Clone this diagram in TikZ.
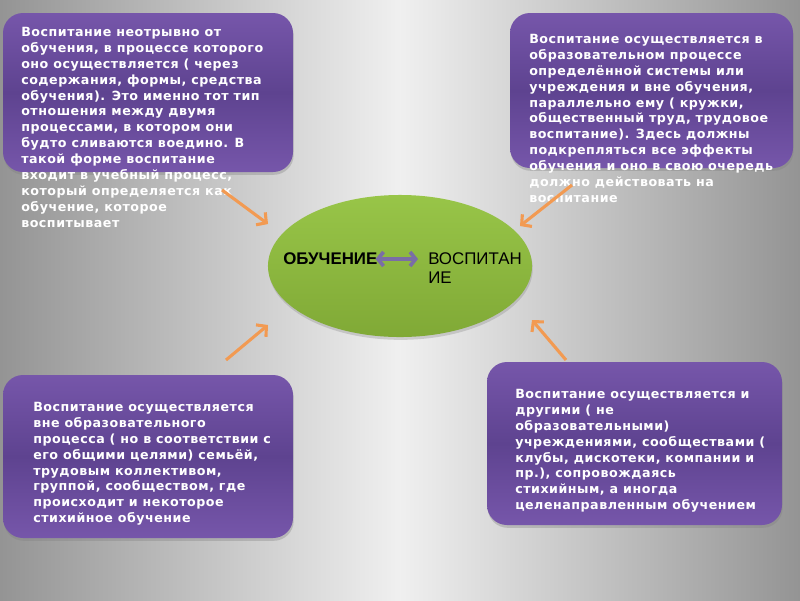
\documentclass[tikz,border=0pt]{standalone}
\usepackage{fontspec}
\setmainfont{DejaVu Sans}
\newfontfamily\boxfont[LetterSpace=4]{DejaVu Sans}
\newfontfamily\ovalfont{Liberation Sans}
\usetikzlibrary{arrows.meta,fit,shadows,shapes.geometric}
\definecolor{boxtop}{HTML}{7656AA}
\definecolor{boxmid}{HTML}{5E4390}
\definecolor{ovaltop}{HTML}{98C548}
\definecolor{ovalbot}{HTML}{80A936}
\definecolor{arroworange}{HTML}{F29A52}
\definecolor{linkpurple}{HTML}{7A6DA6}

\begin{document}
\begin{tikzpicture}[x=0.025cm,y=-0.025cm,
  purplebox/.style={rounded corners=0.5cm, inner sep=0pt, top color=boxtop, bottom color=boxtop, middle color=boxmid,
    drop shadow={opacity=0.35, shadow xshift=0.5pt, shadow yshift=-2pt}},
  boxtext/.style={anchor=north west, inner sep=0pt, text=white, align=left, font=\boxfont\bfseries\fontsize{9}{11.3}\selectfont},
  orangearrow/.style={draw=arroworange, line width=2.2pt, -{Straight Barb[length=5pt,width=11pt]}}]
  % background
  \shade[left color=black!42, right color=black!42, middle color=black!6] (0,0) rectangle (800,600);
  \useasboundingbox (0,0) rectangle (800,600);

  % boxes
  \node[purplebox, fit={(3,13) (293,172)}] (boxTL) {};
  \node[purplebox, fit={(510,13) (793,168)}] (boxTR) {};
  \node[purplebox, fit={(3,375) (293,538)}] (boxBL) {};
  \node[purplebox, fit={(487,362) (782,525)}] (boxBR) {};

  \node[boxtext] (txtTL) at (21,27) {Воспитание неотрывно от\\обучения, в процессе которого\\оно осуществляется ( через\\содержания, формы, средства\\обучения). Это именно тот тип\\отношения между двумя\\процессами, в котором они\\будто сливаются воедино. В\\такой форме воспитание\\входит в учебный процесс,\\который определяется как\\обучение, которое\\воспитывает};
  \node[boxtext] (txtTR) at (529,34) {Воспитание осуществляется в\\образовательном процессе\\определённой системы или\\учреждения и вне обучения,\\параллельно ему ( кружки,\\общественный труд, трудовое\\воспитание). Здесь должны\\подкрепляться все эффекты\\обучения и оно в свою очередь\\должно действовать на\\воспитание};
  \node[boxtext] (txtBL) at (33,402) {Воспитание осуществляется\\вне образовательного\\процесса ( но в соответствии с\\его общими целями) семьёй,\\трудовым коллективом,\\группой, сообществом, где\\происходит и некоторое\\стихийное обучение};
  \node[boxtext] (txtBR) at (515,389) {Воспитание осуществляется и\\другими ( не\\образовательными)\\учреждениями, сообществами (\\клубы, дискотеки, компании и\\пр.), сопровождаясь\\стихийным, а иногда\\целенаправленным обучением};

  % centre
  \node[ellipse, minimum width=6.6cm, minimum height=3.55cm, top color=ovaltop, bottom color=ovalbot,
    drop shadow={opacity=0.3, shadow xshift=0.5pt, shadow yshift=-2pt}] (oval) at (400,266) {};
  \node[anchor=west, inner sep=0pt, font=\ovalfont\bfseries\fontsize{12}{14}\selectfont] (obuch) at (283,259) {ОБУЧЕНИЕ};
  \node[anchor=north west, inner sep=0pt, align=left, font=\ovalfont\fontsize{12}{13.5}\selectfont] (vosp) at (428,252) {ВОСПИТАН\\ИЕ};
  \draw[linkpurple, line width=2.6pt, {Straight Barb[length=4pt,width=10pt]}-{Straight Barb[length=4pt,width=10pt]},
    shorten <=-0.05cm, shorten >=0.25cm] (obuch.east) -- (obuch.east -| vosp.west);

  % arrows
  \coordinate (tlTail) at (222,190);
  \coordinate (tlHead) at (268,224);
  \coordinate (trTail) at (572,185);
  \coordinate (trHead) at (520,226);
  \coordinate (blTail) at (226,360);
  \coordinate (blHead) at (268,325);
  \coordinate (brTail) at (566,360);
  \coordinate (brHead) at (532,320);
  \draw[orangearrow] (tlTail) -- (tlHead);
  \draw[orangearrow] (trTail) -- (trHead);
  \draw[orangearrow] (blTail) -- (blHead);
  \draw[orangearrow] (brTail) -- (brHead);
\end{tikzpicture}
\end{document}
